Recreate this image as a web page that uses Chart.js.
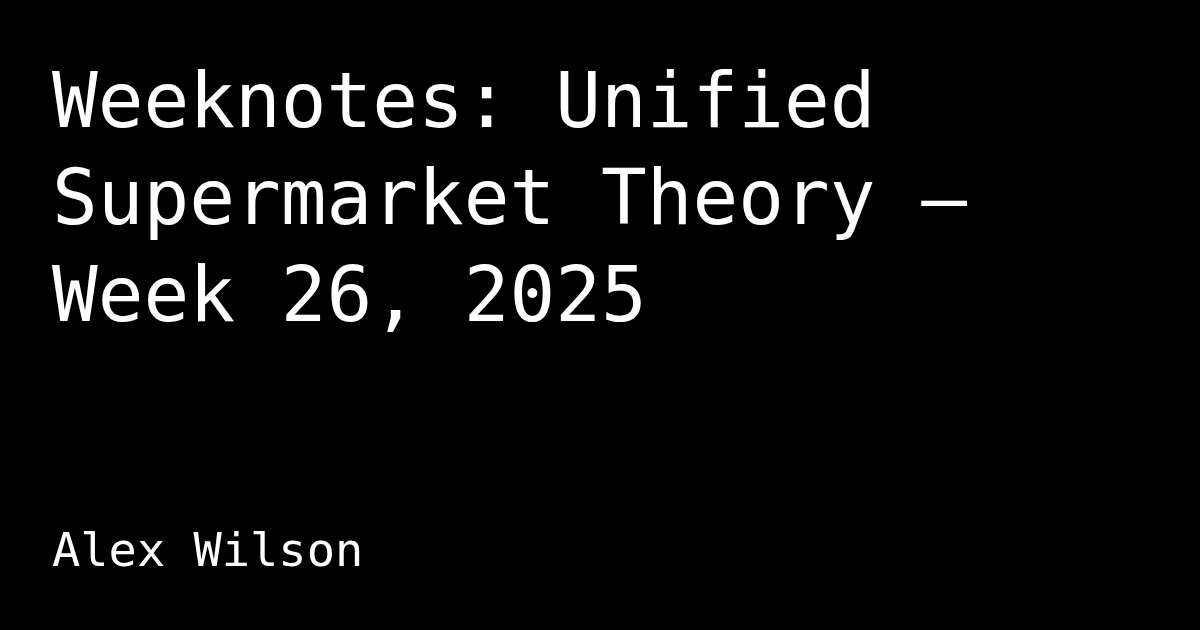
<!DOCTYPE html>
<html>
<head>
<meta charset="utf-8">
<script src="https://cdn.jsdelivr.net/npm/chart.js@4"></script>
<style>
  html, body { margin: 0; padding: 0; background: #000; }
  #card { display: block; }
</style>
</head>
<body>
<canvas id="card" width="1200" height="630"></canvas>
<script>
// card text
const titleLines = ['Weeknotes: Unified', 'Supermarket Theory —', 'Week 26, 2025'];
const author = 'Alex Wilson';
// no series on this card
const categories = [];
const values = [];

const MONO = '"DejaVu Sans Mono", "Liberation Mono", monospace';

// paint the black background
const background = {
  id: 'background',
  beforeDraw(chart) {
    const c = chart.ctx;
    c.save();
    c.fillStyle = '#000';
    c.fillRect(0, 0, chart.width, chart.height);
    c.restore();
  }
};

const ctx = document.getElementById('card').getContext('2d');
new Chart(ctx, {
  type: 'line',
  data: {
    labels: categories,
    datasets: [{ data: values, borderColor: '#fff' }]
  },
  options: {
    responsive: false,
    animation: false,
    devicePixelRatio: 1,
    layout: { padding: { left: 52, top: 59, bottom: 48, right: 40 } },
    scales: { x: { display: false }, y: { display: false } },
    plugins: {
      legend: { display: false },
      tooltip: { enabled: false },
      title: {
        display: true,
        text: titleLines,
        align: 'start',
        color: '#fff',
        padding: 0,
        font: { family: MONO, size: 76, weight: 'normal', lineHeight: 97 / 76 }
      },
      subtitle: {
        display: true,
        text: author,
        position: 'bottom',
        align: 'start',
        color: '#fff',
        padding: 0,
        font: { family: MONO, size: 47, weight: 'normal', lineHeight: 1.2 }
      }
    }
  },
  plugins: [background]
});
</script>
</body>
</html>
